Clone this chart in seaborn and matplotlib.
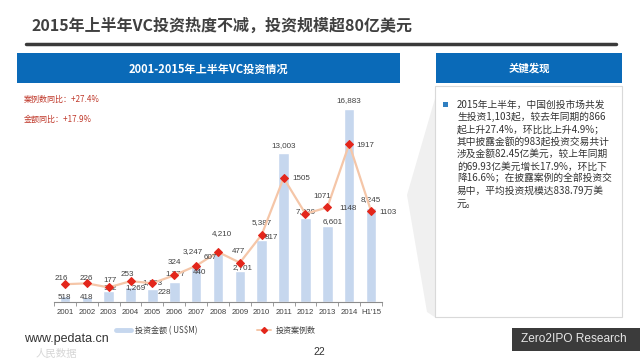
import numpy as np
import pandas as pd
import seaborn as sns
import matplotlib.pyplot as plt
import matplotlib.patches as patches
from matplotlib.lines import Line2D

# データ
years = ["2001", "2002", "2003", "2004", "2005", "2006", "2007", "2008",
         "2009", "2010", "2011", "2012", "2013", "2014", "H1'15"]
amount = [518, 418, 922, 1269, 1173, 1777, 3247, 4210,
          2701, 5387, 13003, 7320, 6601, 16883, 8245]
cases = [216, 226, 177, 253, 228, 324, 440, 607,
         477, 817, 1505, 1071, 1148, 1917, 1103]

# ラベルのずらし量（ピクセル）
amount_off = [(-1, -1), (0, 0), (2, 3), (5, 0), (0, 6), (1, 8), (-3, 13), (4, 20),
              (3, 4), (0, 18), (0, 8), (0, 7), (5, 5), (0, 8), (0, 8)]
cases_off = [(-4, 6), (0, 5), (1, 7), (-3, 7), (12, -9), (0, 13), (3, -7), (-8, -6),
             (-1, 11), (10, -3), (18, -1), (17, 17), (21, -1), (16, -1), (17, -1)]

df = pd.DataFrame({"year": years, "amount": amount, "cases": cases})
df["pos"] = np.arange(len(df))

sns.set_theme(style="white")
plt.rcParams['font.family'] = ['Noto Sans CJK SC', 'DejaVu Sans']

W, H = 640, 360
fig = plt.figure(figsize=(W/100, H/100), dpi=100)

def fx(x):
    return x / W

def fy(y):
    return 1 - y / H

def rect(x0, y0, x1, y1, **kw):
    r = patches.Rectangle((fx(x0), fy(y1)), fx(x1) - fx(x0), fy(y0) - fy(y1),
                          transform=fig.transFigure, **kw)
    fig.add_artist(r)

# 背景の飾り
deco = patches.Polygon([(fx(436), fy(95)), (fx(407), fy(195)), (fx(427), fy(312)),
                        (fx(436), fy(318))], closed=True, transform=fig.transFigure,
                       facecolor="#f0f0f0", edgecolor="none", zorder=0)
fig.add_artist(deco)

# タイトル
fig.text(fx(31), fy(26), "2015年上半年VC投资热度不减，投资规模超80亿美元",
         fontsize=11.5, fontweight="bold", color="#404040", va="center", ha="left")
fig.add_artist(Line2D([fx(26), fx(616)], [fy(44), fy(44)], transform=fig.transFigure,
                      color="#3a3a3a", linewidth=2.5))

# 青いヘッダー
rect(17, 53, 400, 83, facecolor="#0a6ab8", edgecolor="none")
fig.text(fx(208), fy(69), "2001-2015年上半年VC投资情况", fontsize=8, fontweight="bold",
         color="white", ha="center", va="center")
rect(436, 53, 622, 83, facecolor="#0a6ab8", edgecolor="none")
fig.text(fx(529), fy(68), "关键发现", fontsize=7.5, fontweight="bold",
         color="white", ha="center", va="center")

# 右のボックス
rect(435, 86, 622, 317, facecolor="white", edgecolor="#d9d9d9", linewidth=0.8, zorder=1)
rect(443, 102, 448, 107, facecolor="#2f7fc1", edgecolor="none", zorder=2)
body = ["2015年上半年，中国创投市场共发",
        "生投资1,103起，较去年同期的866",
        "起上升27.4%，环比比上升4.9%；",
        "其中披露金额的983起投资交易共计",
        "涉及金额82.45亿美元，较上年同期",
        "的69.93亿美元增长17.9%，环比下",
        "降16.6%；在披露案例的全部投资交",
        "易中，平均投资规模达838.79万美",
        "元。"]
for i, line in enumerate(body):
    fig.text(fx(457), fy(105 + 12.3 * i), line, fontsize=7.0, color="#333333",
             ha="left", va="center", zorder=3)

# 同比テキスト
fig.text(fx(24), fy(99), "案例数同比：+27.4%", fontsize=5.8, color="#c0392b", va="center")
fig.text(fx(24), fy(119), "金额同比：+17.9%", fontsize=5.8, color="#c0392b", va="center")

# グラフ
ax = fig.add_axes([fx(54), fy(302), fx(382) - fx(54), fy(96) - fy(302)])
ax.patch.set_alpha(0)
sns.barplot(data=df, x="year", y="amount", color="#c6d7ee", width=0.48,
            saturation=1, ax=ax, zorder=2)
ax.set_ylim(0, 18000)
ax.set_xlim(-0.5, len(years) - 0.5)

ax2 = ax.twinx()
sns.lineplot(data=df, x="pos", y="cases", ax=ax2, color="#f5c6a8", linewidth=1.6,
             marker="D", markersize=3.6, markerfacecolor="#e3261b",
             markeredgecolor="#e3261b", zorder=3)
ax2.set_ylim(0, 2500)
ax2.set_xlim(-0.5, len(years) - 0.5)

for a in (ax, ax2):
    for s in ("top", "right", "left"):
        a.spines[s].set_visible(False)
    a.set_ylabel("")
    a.set_xlabel("")
    a.set_yticks([])
ax2.spines["bottom"].set_visible(False)
ax.spines["bottom"].set_color("#8c8c8c")
ax.spines["bottom"].set_linewidth(0.8)

ax.set_xticks(np.arange(len(years)))
ax.set_xticklabels(years, fontsize=5.6, color="#404040", family="Liberation Sans")
ax.tick_params(axis="x", which="major", length=0, pad=5)
ax.set_xticks(np.arange(-0.5, len(years), 1), minor=True)
ax.tick_params(axis="x", which="minor", length=3, width=0.6, color="#8c8c8c",
               direction="out", bottom=True)
ax2.tick_params(axis="x", which="both", length=0, labelbottom=False)

for i in range(len(years)):
    dx, dy = amount_off[i]
    ax.annotate(f"{amount[i]:,}", (i, amount[i]), xytext=(dx, dy),
                textcoords="offset pixels", ha="center", va="center",
                fontsize=5.8, color="#404040", family="Liberation Sans", zorder=5)
    dx, dy = cases_off[i]
    ax2.annotate(f"{cases[i]}", (i, cases[i]), xytext=(dx, dy),
                 textcoords="offset pixels", ha="center", va="center",
                 fontsize=5.8, color="#404040", family="Liberation Sans", zorder=5)

# 凡例
handles = [Line2D([], [], color="#c6d7ee", linewidth=3.5),
           Line2D([], [], color="#f5c6a8", linewidth=1.4, marker="D", markersize=3,
                  markerfacecolor="#e3261b", markeredgecolor="#e3261b")]
fig.legend(handles, ["投资金额 ( US$M)", "投资案例数"], loc="center",
           bbox_to_anchor=(fx(216), fy(330)), ncol=2, frameon=False,
           fontsize=5.8, handlelength=1.8, handletextpad=0.6, columnspacing=7.3,
           labelcolor="#404040")

# フッター
fig.text(fx(24), fy(339), "www.pedata.cn", fontsize=9, color="#333333",
         family="Liberation Sans", va="center")
fig.text(fx(36), fy(354), "人民数据", fontsize=7.5, color="#d6d6d6", va="center", zorder=0)
fig.text(fx(319), fy(352), "22", fontsize=7.5, color="#333333",
         family="Liberation Sans", ha="center", va="center")
rect(512, 328, 640, 351, facecolor="#3b3b3b", edgecolor="none")
fig.text(fx(574), fy(339.5), "Zero2IPO Research", fontsize=8.6, color="#e6e6e6",
         family="Liberation Sans", ha="center", va="center")

fig.savefig("out.png", dpi=100, facecolor="white")
